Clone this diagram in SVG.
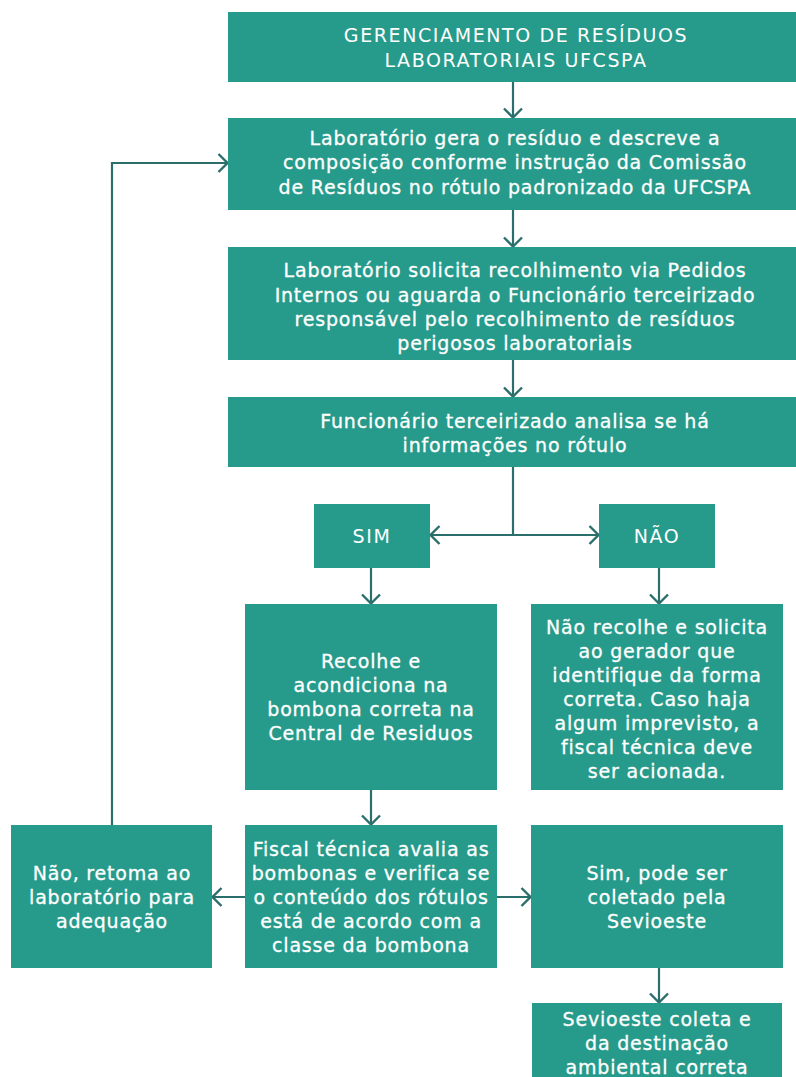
<svg xmlns="http://www.w3.org/2000/svg" width="796" height="1077" viewBox="0 0 796 1077">
<style>
.b{fill:#279b8b}
.t{font-family:"DejaVu Sans","Liberation Sans",sans-serif;font-size:19px;letter-spacing:0.8px;fill:#ffffff;stroke:#ffffff;stroke-width:0.3px;text-anchor:middle;dominant-baseline:central}
.h{stroke-width:0;letter-spacing:1.6px}
.c{fill:none;stroke:#2b6f6c;stroke-width:2.2}
</style>
<defs>
<marker id="a" viewBox="0 0 12 20" refX="11" refY="10" markerWidth="12" markerHeight="20" markerUnits="userSpaceOnUse" orient="auto">
<path d="M1.5,1 L10.5,10 L1.5,19" fill="none" stroke="#2b6f6c" stroke-width="2.4"/>
</marker>
</defs>
<rect width="796" height="1077" fill="#ffffff"/>
<g id="connectors">
<path class="c" d="M513,82 V118" marker-end="url(#a)"/>
<path class="c" d="M513,210 V247" marker-end="url(#a)"/>
<path class="c" d="M513,360 V397" marker-end="url(#a)"/>
<path class="c" d="M513,467 V535"/>
<path class="c" d="M513,535 H430" marker-end="url(#a)"/>
<path class="c" d="M513,535 H599" marker-end="url(#a)"/>
<path class="c" d="M371,568 V604" marker-end="url(#a)"/>
<path class="c" d="M659,568 V604" marker-end="url(#a)"/>
<path class="c" d="M371,790 V825" marker-end="url(#a)"/>
<path class="c" d="M245,897 H212" marker-end="url(#a)"/>
<path class="c" d="M497,897 H531" marker-end="url(#a)"/>
<path class="c" d="M659,968 V1003" marker-end="url(#a)"/>
<path class="c" d="M112,825 V163 H228" marker-end="url(#a)"/>
</g>
<g id="n1"><rect class="b" x="228" y="12" width="568" height="70"/>
<text class="t h" x="516" y="35">GERENCIAMENTO DE RESÍDUOS</text>
<text class="t h" x="516" y="60">LABORATORIAIS UFCSPA</text></g>
<g id="n2"><rect class="b" x="228" y="118" width="568" height="92"/>
<text class="t" x="515" y="138">Laboratório gera o resíduo e descreve a</text>
<text class="t" x="515" y="162">composição conforme instrução da Comissão</text>
<text class="t" x="515" y="187">de Resíduos no rótulo padronizado da UFCSPA</text></g>
<g id="n3"><rect class="b" x="228" y="247" width="568" height="113"/>
<text class="t" x="515" y="270">Laboratório solicita recolhimento via Pedidos</text>
<text class="t" x="515" y="295">Internos ou aguarda o Funcionário terceirizado</text>
<text class="t" x="515" y="319">responsável pelo recolhimento de resíduos</text>
<text class="t" x="515" y="343">perigosos laboratoriais</text></g>
<g id="n4"><rect class="b" x="228" y="397" width="568" height="70"/>
<text class="t" x="515" y="421">Funcionário terceirizado analisa se há</text>
<text class="t" x="515" y="445">informações no rótulo</text></g>
<g id="sim"><rect class="b" x="314" y="504" width="116" height="64"/>
<text class="t h" x="372" y="536">SIM</text></g>
<g id="nao"><rect class="b" x="599" y="504" width="116" height="64"/>
<text class="t h" x="657" y="536">NÃO</text></g>
<g id="recolhe"><rect class="b" x="245" y="604" width="252" height="186"/>
<text class="t" x="371" y="661">Recolhe e</text>
<text class="t" x="371" y="685">acondiciona na</text>
<text class="t" x="371" y="709">bombona correta na</text>
<text class="t" x="371" y="733">Central de Residuos</text></g>
<g id="naorecolhe"><rect class="b" x="531" y="604" width="252" height="186"/>
<text class="t" x="657" y="627">Não recolhe e solicita</text>
<text class="t" x="657" y="651">ao gerador que</text>
<text class="t" x="657" y="675">identifique da forma</text>
<text class="t" x="657" y="699">correta. Caso haja</text>
<text class="t" x="657" y="723">algum imprevisto, a</text>
<text class="t" x="657" y="747">fiscal técnica deve</text>
<text class="t" x="657" y="771">ser acionada.</text></g>
<g id="retoma"><rect class="b" x="11" y="825" width="201" height="143"/>
<text class="t" x="112" y="873">Não, retoma ao</text>
<text class="t" x="112" y="897">laboratório para</text>
<text class="t" x="112" y="921">adequação</text></g>
<g id="fiscal"><rect class="b" x="245" y="825" width="252" height="143"/>
<text class="t" x="371" y="849">Fiscal técnica avalia as</text>
<text class="t" x="371" y="873">bombonas e verifica se</text>
<text class="t" x="371" y="897">o conteúdo dos rótulos</text>
<text class="t" x="371" y="921">está de acordo com a</text>
<text class="t" x="371" y="945">classe da bombona</text></g>
<g id="simpode"><rect class="b" x="531" y="825" width="252" height="143"/>
<text class="t" x="657" y="873">Sim, pode ser</text>
<text class="t" x="657" y="897">coletado pela</text>
<text class="t" x="657" y="921">Sevioeste</text></g>
<g id="coleta"><rect class="b" x="532" y="1003" width="250" height="74"/>
<text class="t" x="657" y="1019">Sevioeste coleta e</text>
<text class="t" x="657" y="1043">da destinação</text>
<text class="t" x="657" y="1067">ambiental correta</text></g>
</svg>
